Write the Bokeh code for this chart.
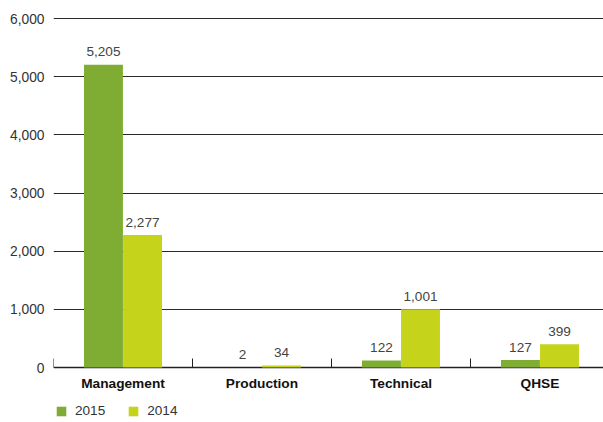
from bokeh.plotting import figure
from bokeh.models import ColumnDataSource, Range1d, FixedTicker, Legend, LegendItem, CustomJSTickFormatter
from bokeh.transform import dodge
from bokeh.core.properties import value
from bokeh.embed import file_html
from bokeh.resources import INLINE

categories = ["Management", "Production", "Technical", "QHSE"]
values_2015 = [5205, 2, 122, 127]
values_2014 = [2277, 34, 1001, 399]
y_ticks = [0, 1000, 2000, 3000, 4000, 5000, 6000]

FONT = "Liberation Sans"
C2015 = "#7fad33"
C2014 = "#c5d41a"

xs = [i + 0.5 for i in range(len(categories))]
src = ColumnDataSource(dict(
    x=xs,
    v15=values_2015,
    v14=values_2014,
    t15=[f"{v:,}" for v in values_2015],
    t14=[f"{v:,}" for v in values_2014],
))

# frame spans y=16..422 px; value 0 sits at 367 px, 6000 at 18 px
PX_PER_UNIT = 349 / 6000
y_hi = 6000 + 2 / PX_PER_UNIT
y_lo = -(422 - 367) / PX_PER_UNIT

p = figure(width=603, height=422, output_backend="svg", toolbar_location=None,
           x_range=Range1d(0, 3.957), y_range=Range1d(y_lo, y_hi),
           min_border_left=53, min_border_right=0, min_border_top=16, min_border_bottom=0)
p.outline_line_color = None
p.background_fill_color = "white"
p.border_fill_color = "white"

r15 = p.vbar(x=dodge("x", -0.1405, range=p.x_range), top="v15", bottom=0, width=0.28, source=src,
             fill_color=C2015, line_color=None)
r14 = p.vbar(x=dodge("x", 0.1405, range=p.x_range), top="v14", bottom=0, width=0.28, source=src,
             fill_color=C2014, line_color=None)

for col, off in (("v15", -0.1405), ("v14", 0.1405)):
    p.text(x=dodge("x", off, range=p.x_range), y=col, text="t" + col[1:], source=src,
           text_font=value(FONT), text_font_size="13.6px", text_color="#444444",
           text_align="center", text_baseline="alphabetic", y_offset=-13)

# Y axis
p.yaxis.ticker = FixedTicker(ticks=y_ticks)
p.yaxis.formatter = CustomJSTickFormatter(code="return tick.toLocaleString('en-US');")
p.yaxis.axis_line_color = None
p.yaxis.major_tick_line_color = None
p.yaxis.minor_tick_line_color = None
p.yaxis.major_tick_out = 0
p.yaxis.major_label_standoff = 9
p.yaxis.major_label_text_font = FONT
p.yaxis.major_label_text_font_size = "13.8px"
p.yaxis.major_label_text_color = "#333333"

# X axis, pinned at value 0, drawn beneath the bars
p.xaxis.fixed_location = 0
p.xaxis.level = "underlay"
p.xaxis.ticker = FixedTicker(ticks=xs, minor_ticks=[0, 1, 2, 3])
p.xaxis.major_label_overrides = {x: c for x, c in zip(xs, categories)}
p.xaxis.axis_line_color = "#222222"
p.xaxis.axis_line_width = 1.3
p.xaxis.major_tick_line_color = None
p.xaxis.minor_tick_line_color = "#222222"
p.xaxis.minor_tick_in = 9
p.xaxis.minor_tick_out = 0
p.xaxis.major_tick_out = 0
p.xaxis.major_label_standoff = 8
p.xaxis.major_label_text_font = FONT
p.xaxis.major_label_text_font_size = "13.7px"
p.xaxis.major_label_text_font_style = "bold"
p.xaxis.major_label_text_color = "#111111"

p.xgrid.grid_line_color = None
p.ygrid.ticker = FixedTicker(ticks=y_ticks[1:])
p.ygrid.grid_line_color = "#2a2a2a"
p.ygrid.grid_line_width = 1.2

legend = Legend(items=[LegendItem(label="2015", renderers=[r15]),
                       LegendItem(label="2014", renderers=[r14])],
                location=(2, 4), orientation="horizontal",
                margin=0, padding=0, spacing=22, label_standoff=8,
                glyph_width=12, glyph_height=12, label_height=12,
                border_line_color=None, background_fill_alpha=0,
                label_text_font=FONT, label_text_font_size="13.6px",
                label_text_color="#333333")
p.add_layout(legend, "center")

open("out.html", "w").write(file_html(p, INLINE))
